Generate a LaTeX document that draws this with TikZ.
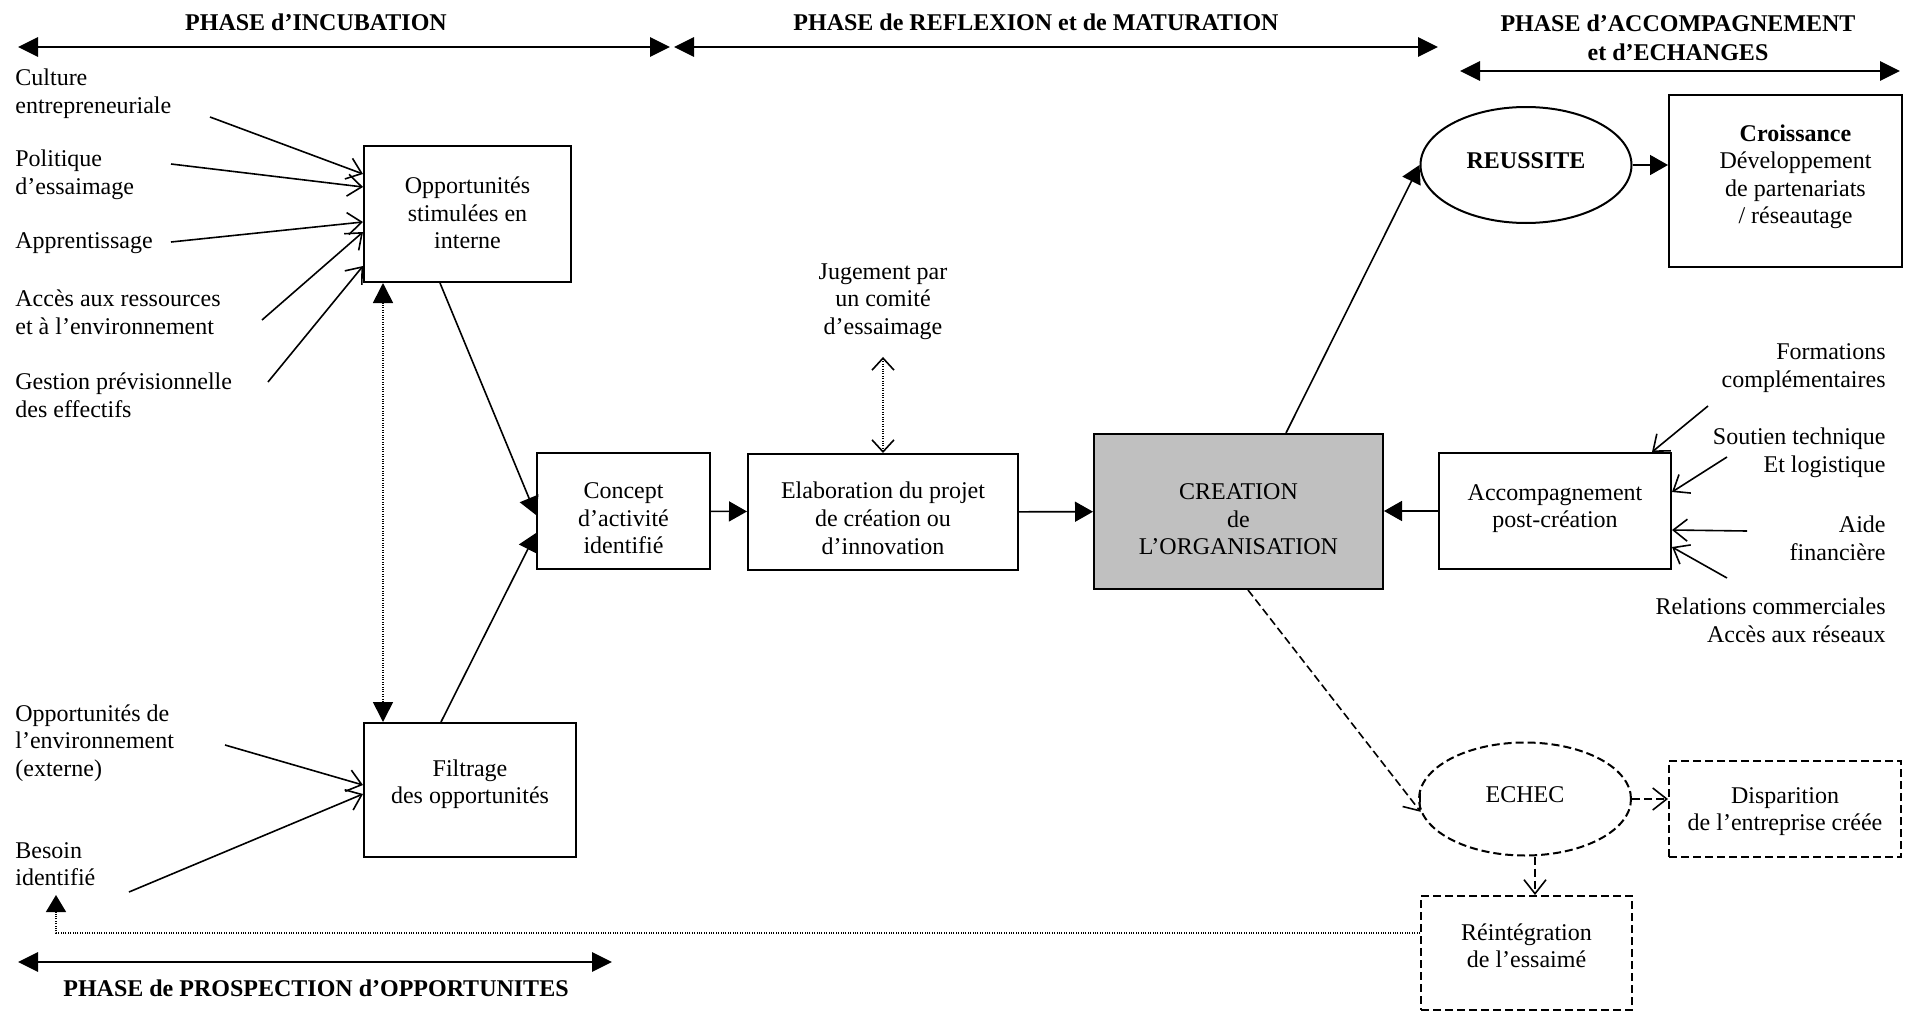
\documentclass[tikz,border=0pt]{standalone}
\usepackage{fontspec}
\setmainfont{Liberation Serif}
\usetikzlibrary{arrows.meta,shapes.geometric}
\definecolor{creagris}{RGB}{192,192,192}
\newcommand{\decaler}[2]{\raisebox{#1}[\height][\depth]{\begin{tabular}{@{}c@{}}#2\end{tabular}}}

\begin{document}
\begin{tikzpicture}[x=0.5pt,y=-0.5pt,
  font=\fontsize{12}{13.8}\selectfont,
  titre/.style={inner sep=0pt,font=\fontsize{12}{14.5}\selectfont\bfseries},
  etiq/.style={inner sep=0pt},
  bloc/.style={draw,line width=1pt,align=center,inner sep=0pt},
  bulle/.style={draw,ellipse,line width=1pt,align=center,inner sep=0pt},
  pointille/.style={dash pattern=on 4pt off 2pt},
  points/.style={dash pattern=on 0.5pt off 0.7pt},
  phase/.style={line width=1.4pt,{Triangle[length=10pt,width=9.5pt]}-{Triangle[length=10pt,width=9.5pt]}},
  fleche/.style={line width=0.8pt,-{Triangle[length=9pt,width=10pt]}},
  entree/.style={line width=0.8pt,-{Straight Barb[length=7pt,width=11pt]}}]

\useasboundingbox (0,0) rectangle (1913,1012);

\node[titre] (tincub) at (316,22) {PHASE d’INCUBATION};
\node[titre] (trefl) at (1036,22) {PHASE de REFLEXION et de MATURATION};
\node[titre,align=center] (taccomp) at (1678,38) {PHASE d’ACCOMPAGNEMENT\\et d’ECHANGES};
\node[titre] (tprosp) at (316,988) {PHASE de PROSPECTION d’OPPORTUNITES};

\coordinate (p1) at (18,47);
\coordinate (p2) at (670,47);
\coordinate (p3) at (674,47);
\coordinate (p4) at (1438,47);
\coordinate (p5) at (1460,71);
\coordinate (p6) at (1900,71);
\coordinate (p7) at (18,962);
\coordinate (p8) at (612,962);
\draw[phase] (p1) -- (p2);
\draw[phase] (p3) -- (p4);
\draw[phase] (p5) -- (p6);
\draw[phase] (p7) -- (p8);

\node[bloc,minimum width=103.5pt,minimum height=68pt] (interne) at (467.5,214) {\decaler{-0.75pt}{Opportunités\\stimulées en\\interne}};
\node[bloc,minimum width=106pt,minimum height=67pt] (filtrage) at (470,790) {\decaler{2.7pt}{Filtrage\\des opportunités}};
\node[bloc,minimum width=86.5pt,minimum height=58pt] (concept) at (623.5,511) {\decaler{-4.75pt}{Concept\\d’activité\\identifié}};
\node[bloc,minimum width=135pt,minimum height=58pt] (elab) at (883,512) {\decaler{-4.5pt}{Elaboration du projet\\de création ou\\d’innovation}};
\node[bloc,fill=creagris,minimum width=144.5pt,minimum height=77.5pt] (creation) at (1238.5,511.5) {\decaler{-5pt}{CREATION\\de\\L’ORGANISATION}};
\node[bloc,minimum width=116pt,minimum height=58pt] (accomp) at (1555,511) {\decaler{1.2pt}{Accompagnement\\post-création}};
\node[bloc,minimum width=116.5pt,minimum height=86pt] (croiss) at (1785.5,181) {\hspace*{10pt}\decaler{2pt}{\textbf{Croissance}\\Développement\\de partenariats\\/ réseautage}};
\node[bulle,minimum width=105.5pt,minimum height=58pt] (reussite) at (1526,165) {\decaler{1.2pt}{\textbf{REUSSITE}}};
\node[bulle,pointille,minimum width=106pt,minimum height=56.5pt] (echec) at (1525,799) {\decaler{1pt}{ECHEC}};
\node[bloc,pointille,minimum width=116pt,minimum height=48pt] (dispar) at (1785,809) {\decaler{-1.3pt}{Disparition\\de l’entreprise créée}};
\node[bloc,pointille,minimum width=105.5pt,minimum height=57pt] (reint) at (1526.5,953) {\decaler{2.2pt}{Réintégration\\de l’essaimé}};

\node[etiq,anchor=west,align=left] (lcult) at (15,93.5) {Culture\\entrepreneuriale};
\node[etiq,anchor=west,align=left] (lpol) at (15,175) {Politique\\d’essaimage};
\node[etiq,anchor=west,align=left] (lapp) at (15,243) {Apprentissage};
\node[etiq,anchor=west,align=left] (lacc) at (15,312) {Accès aux ressources\\et à l’environnement};
\node[etiq,anchor=west,align=left] (lgest) at (15,395) {Gestion prévisionnelle\\des effectifs};
\node[etiq,anchor=west,align=left] (lenv) at (15,743) {Opportunités de\\l’environnement\\(externe)};
\node[etiq,anchor=west,align=left] (lbes) at (15,864) {Besoin\\identifié};
\node[etiq,align=center] (jugement) at (883,301.5) {Jugement par\\un comité\\d’essaimage};
\node[etiq,anchor=east,align=right] (lform) at (1886,368) {Formations\\complémentaires};
\node[etiq,anchor=east,align=right] (lsout) at (1886,453) {Soutien technique\\Et logistique};
\node[etiq,anchor=east,align=right] (laide) at (1886,538) {Aide\\financière};
\node[etiq,anchor=east,align=right] (lrel) at (1886,620) {Relations commerciales\\Accès aux réseaux};

\coordinate (dcult) at (210,117);
\coordinate (dpol) at (171,164);
\coordinate (dapp) at (171,242);
\coordinate (dacc) at (262,320);
\coordinate (dgest) at (268,382);
\coordinate (denv) at (225,745);
\coordinate (dbes) at (129,892);
\coordinate (dform) at (1708,406);
\coordinate (dsout) at (1727,457);
\coordinate (daide) at (1747,531);
\coordinate (drel) at (1727,578);
\coordinate (coin) at (56,933);
\coordinate (besoinfl) at (56,895);

\draw[entree] (dcult) -- ([yshift=-14.5pt]interne.north west);
\draw[entree] (dpol) -- ([yshift=-21pt]interne.north west);
\draw[entree] (dapp) -- ([yshift=-38.5pt]interne.north west);
\draw[entree] (dacc) -- ([yshift=-43.5pt]interne.north west);
\draw[entree] (dgest) -- ([yshift=-60.5pt]interne.north west);
\draw[entree] (denv) -- ([yshift=-31.5pt]filtrage.north west);
\draw[entree] (dbes) -- ([yshift=-36pt]filtrage.north west);

\draw[points,line width=0.8pt,{Triangle[length=10pt,width=10pt]}-{Triangle[length=10pt,width=10pt]}] ([xshift=-42.25pt]interne.south) -- ([xshift=-42.25pt]interne.south |- filtrage.north);
\draw[fleche] ([xshift=-13.75pt]interne.south) -- ([yshift=-31.5pt]concept.north west);
\draw[fleche] ([xshift=-14.5pt]filtrage.north) -- ([yshift=-40.5pt]concept.north west);
\draw[fleche] (concept) -- (elab);
\draw[fleche] (elab) -- (creation);
\draw[points,line width=0.8pt,{Straight Barb[length=6pt,width=11pt]}-{Straight Barb[length=6pt,width=11pt]}] ([yshift=-8.5pt]jugement.south) -- (elab.north);

\draw[fleche] ([xshift=23.75pt]creation.north) -- (reussite.west);
\draw[fleche] (reussite.east) -- (reussite.east -| croiss.west);
\draw[fleche] (accomp.west) -- (accomp.west -| creation.east);
\draw[entree] (dform) -- ([xshift=-10pt]accomp.north east);
\draw[entree] (dsout) -- ([yshift=-20pt]accomp.north east);
\draw[entree] (daide) -- ([yshift=-39pt]accomp.north east);
\draw[entree] (drel) -- ([yshift=-47.5pt]accomp.north east);

\draw[entree,pointille] ([xshift=4.75pt]creation.south) -- (echec.187);
\draw[entree,pointille] (echec.east) -- (echec.east -| dispar.west);
\draw[entree,pointille] ([xshift=5pt]echec.south) -- ([xshift=5pt]echec.south |- reint.north);
\draw[points,line width=0.8pt,-{Triangle[length=8.5pt,width=10pt]}] ([yshift=10pt]reint.west) -- (coin) -- (besoinfl);
\end{tikzpicture}
\end{document}
